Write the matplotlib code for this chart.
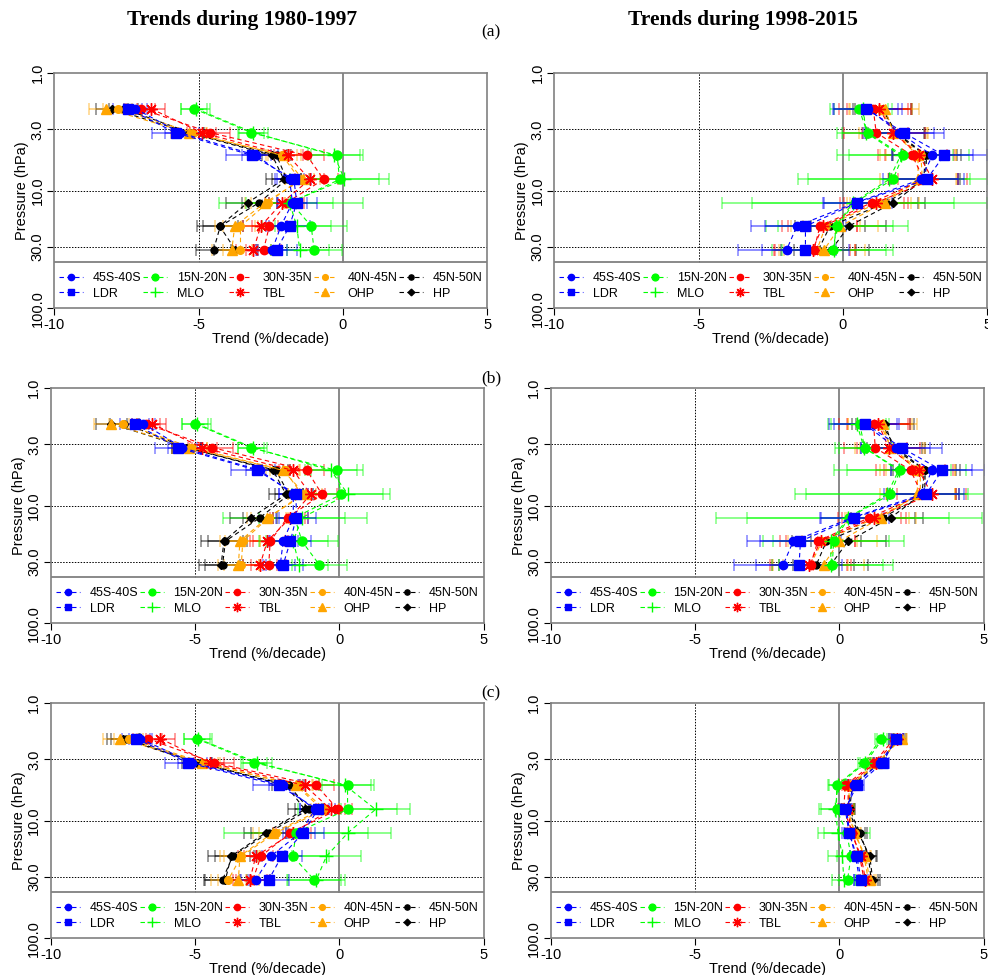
import numpy as np
import matplotlib.pyplot as plt

plt.rcParams['font.family'] = ['Liberation Sans', 'DejaVu Sans']
plt.rcParams['axes.unicode_minus'] = False

# pressure levels (hPa) of the trend profiles
levels = [2.0, 3.2, 5.0, 8.0, 12.6, 20.0, 31.7]

names = ["45S-40S", "LDR", "15N-20N", "MLO", "30N-35N", "TBL",
         "40N-45N", "OHP", "45N-50N", "HP"]
colors = ["#0000FF", "#0000FF", "#00FF00", "#00FF00", "#FF0000", "#FF0000",
          "#FFA500", "#FFA500", "#000000", "#000000"]
markers = ["o", "s", "o", "+", "o", (8, 2, 0), "o", "^", "o", "D"]
msizes = [6, 6.5, 6.5, 10, 6, 9, 5.5, 7, 5, 4.5]

# trends (%/decade), one row per station / zonal band, 7 levels each
trend_a_early = [
    [-7.2, -5.65, -3.0, -1.85, -1.75, -2.15, -2.45],
    [-7.45, -5.8, -3.15, -1.7, -1.6, -1.85, -2.3],
    [-5.17, -3.17, -0.2, -0.12, -1.8, -1.1, -1.0],
    [-5.1, -3.1, -0.3, 0.05, -1.85, -1.6, -1.5],
    [-7.0, -4.6, -1.25, -0.67, -1.95, -2.55, -2.75],
    [-6.65, -4.9, -1.9, -1.15, -2.1, -2.85, -3.1],
    [-7.8, -5.2, -2.1, -1.5, -2.6, -3.55, -3.55],
    [-8.2, -5.35, -2.05, -1.4, -2.7, -3.75, -3.85],
    [-7.6, -5.3, -2.3, -1.95, -2.9, -4.25, -4.48],
    [-8.0, -5.35, -2.45, -2.05, -3.3, -4.27, -3.73],
]
trend_a_late = [
    [0.85, 1.95, 3.1, 2.7, 0.45, -1.6, -1.95],
    [0.8, 2.1, 3.5, 2.9, 0.5, -1.3, -1.3],
    [0.55, 0.85, 2.08, 1.73, 0.4, -0.2, -0.35],
    [0.7, 0.8, 2.0, 1.6, 0.35, -0.25, -0.3],
    [1.05, 1.15, 2.4, 2.8, 1.0, -0.8, -1.0],
    [1.25, 1.75, 2.65, 3.1, 1.15, -0.7, -1.05],
    [1.3, 1.8, 2.7, 2.75, 1.25, -0.6, -0.9],
    [1.45, 1.75, 2.6, 2.6, 1.45, -0.1, -0.65],
    [1.35, 1.85, 2.9, 2.85, 1.5, -0.45, -0.85],
    [1.4, 1.8, 2.85, 2.8, 1.75, 0.2, -0.4],
]
trend_b_early = [
    [-6.8, -5.45, -2.75, -1.6, -1.6, -1.95, -2.05],
    [-7.1, -5.6, -2.85, -1.5, -1.5, -1.7, -1.95],
    [-5.0, -3.07, -0.1, 0.06, -1.55, -1.3, -0.7],
    [-4.95, -3.0, -0.3, 0.3, -1.3, -1.6, -1.4],
    [-6.7, -4.4, -1.13, -0.6, -1.8, -2.4, -2.45],
    [-6.5, -4.75, -1.6, -1.0, -1.7, -2.5, -2.75],
    [-7.5, -5.1, -1.9, -1.3, -2.45, -3.35, -3.4],
    [-7.9, -5.2, -1.95, -1.2, -2.5, -3.45, -3.5],
    [-7.45, -5.3, -2.2, -1.75, -2.75, -3.95, -4.05],
    [-7.9, -5.3, -2.3, -1.85, -3.05, -4.0, -4.1],
]
trend_b_late = [
    [0.85, 1.95, 3.2, 2.85, 0.45, -1.6, -1.95],
    [0.9, 2.15, 3.55, 3.0, 0.52, -1.35, -1.4],
    [0.7, 0.87, 2.1, 1.76, 0.33, -0.2, -0.25],
    [0.6, 0.85, 2.05, 1.65, 0.3, -0.3, -0.3],
    [1.18, 1.24, 2.47, 2.85, 1.04, -0.75, -1.0],
    [1.35, 1.7, 2.75, 3.2, 1.2, -0.65, -1.05],
    [1.4, 1.8, 2.8, 2.8, 1.3, -0.6, -1.0],
    [1.5, 1.75, 2.7, 2.7, 1.45, 0.0, -0.55],
    [1.45, 1.95, 2.97, 2.95, 1.5, -0.45, -0.8],
    [1.58, 1.85, 2.95, 2.85, 1.78, 0.3, -0.3],
]
trend_c_early = [
    [-6.9, -5.1, -1.95, -0.85, -1.35, -2.38, -2.9],
    [-7.05, -5.25, -2.1, -0.75, -1.25, -2.0, -2.45],
    [-4.95, -2.95, 0.28, 0.28, -1.5, -1.62, -0.88],
    [-4.9, -2.85, 0.2, 1.25, 0.3, -0.45, -0.8],
    [-6.65, -4.35, -0.8, -0.05, -1.7, -2.72, -3.0],
    [-6.2, -4.5, -1.2, -0.3, -1.6, -2.9, -3.1],
    [-7.3, -4.7, -1.45, -0.5, -2.2, -3.4, -3.85],
    [-7.6, -4.75, -1.5, -0.6, -2.3, -3.45, -3.5],
    [-7.4, -4.9, -1.75, -1.05, -2.45, -3.7, -4.05],
    [-7.5, -4.95, -1.85, -1.2, -2.55, -3.75, -3.95],
]
trend_c_late = [
    [2.0, 1.4, 0.5, 0.25, 0.35, 0.55, 0.7],
    [1.95, 1.5, 0.6, 0.2, 0.33, 0.6, 0.75],
    [1.43, 0.85, -0.1, -0.1, 0.25, 0.4, 0.28],
    [1.5, 0.9, -0.05, -0.15, -0.05, 0.1, 0.15],
    [1.9, 1.2, 0.2, 0.15, 0.45, 0.7, 0.85],
    [2.0, 1.25, 0.3, 0.3, 0.4, 0.75, 0.9],
    [2.1, 1.35, 0.4, 0.25, 0.55, 0.85, 1.0],
    [2.15, 1.3, 0.35, 0.3, 0.5, 0.9, 1.05],
    [2.05, 1.4, 0.45, 0.35, 0.7, 1.0, 1.1],
    [2.1, 1.35, 0.4, 0.3, 0.65, 1.05, 1.15],
]

# uncertainties (half width, %/decade)
err_early = [
    [0.4, 0.5, 0.5, 0.5, 0.5, 0.5, 0.5],
    [0.5, 0.8, 0.9, 0.6, 0.7, 0.7, 0.7],
    [0.45, 0.45, 0.9, 1.7, 2.5, 1.25, 0.95],
    [0.5, 0.5, 0.9, 1.2, 1.5, 1.2, 1.0],
    [0.5, 0.7, 0.6, 0.5, 0.6, 0.6, 0.6],
    [0.5, 0.5, 0.5, 0.5, 0.6, 0.6, 0.6],
    [0.5, 0.5, 0.5, 0.5, 0.6, 0.6, 0.6],
    [0.6, 0.6, 0.6, 0.6, 0.7, 0.7, 0.7],
    [0.5, 0.5, 0.5, 0.5, 0.6, 0.6, 0.6],
    [0.55, 0.5, 0.5, 0.6, 0.75, 0.8, 0.75],
]
err_late = [
    [1.2, 1.2, 1.4, 1.3, 1.1, 1.6, 1.7],
    [1.1, 1.4, 1.5, 1.3, 1.2, 1.4, 1.5],
    [1.0, 0.9, 2.3, 3.3, 4.6, 2.45, 2.1],
    [1.0, 1.0, 1.8, 2.8, 3.5, 2.0, 1.8],
    [1.2, 1.1, 1.2, 1.2, 1.1, 1.3, 1.4],
    [1.1, 1.1, 1.2, 1.2, 1.1, 1.2, 1.3],
    [1.1, 1.1, 1.2, 1.2, 1.1, 1.2, 1.3],
    [1.2, 1.2, 1.3, 1.3, 1.2, 1.3, 1.4],
    [1.0, 1.0, 1.2, 1.2, 1.1, 1.2, 1.3],
    [1.0, 1.0, 1.1, 1.2, 1.1, 1.3, 1.3],
]
err_c_late = [
    [0.2, 0.2, 0.2, 0.2, 0.2, 0.2, 0.2],
    [0.25, 0.2, 0.25, 0.2, 0.25, 0.25, 0.25],
    [0.2, 0.2, 0.3, 0.6, 0.8, 0.5, 0.3],
    [0.2, 0.2, 0.3, 0.5, 0.7, 0.5, 0.4],
    [0.2, 0.2, 0.2, 0.2, 0.2, 0.2, 0.2],
    [0.2, 0.2, 0.2, 0.2, 0.2, 0.2, 0.2],
    [0.2, 0.2, 0.2, 0.2, 0.2, 0.2, 0.2],
    [0.2, 0.2, 0.2, 0.2, 0.2, 0.2, 0.2],
    [0.2, 0.2, 0.2, 0.2, 0.25, 0.25, 0.25],
    [0.2, 0.2, 0.2, 0.2, 0.25, 0.25, 0.25],
]

xticks = [-10, -5, 0, 5]
xticklabels = ["-10", "-5", "0", "5"]
yticks = [1, 3, 10, 30, 100]
yticklabels = ["1.0", "3.0", "10.0", "30.0", "100.0"]

LEG_TOP = 0.196  # top of the legend strip, axes fraction
draw_order = [8, 9, 6, 7, 4, 5, 2, 3, 0, 1]


def draw_panel(ax, trends, errs):
    ax.set_yscale('log')
    ax.set_xlim(-10, 5)
    ax.set_ylim(100, 1)
    for p in [3, 10, 30]:
        ax.axhline(p, color='black', ls=(0, (1.5, 1.5)), lw=0.7, zorder=1)
    ax.axvline(-5, ymin=LEG_TOP, color='black', ls=(0, (1.5, 1.5)), lw=0.7, zorder=1)
    ax.axvline(0, ymin=LEG_TOP, color='#808080', lw=1.3, zorder=1)
    ax.plot([0, 1], [LEG_TOP, LEG_TOP], transform=ax.transAxes, color='#808080', lw=1.3)

    for i in draw_order:
        ax.errorbar(trends[i], levels, xerr=errs[i], fmt='none', ecolor=colors[i],
                    alpha=0.45, capsize=4, elinewidth=1.4, capthick=1.2, zorder=2)
    handles = {}
    for i in draw_order:
        filled = markers[i] not in ["+", (8, 2, 0)]
        ln, = ax.plot(trends[i], levels, color=colors[i], ls=(0, (4, 3)), lw=0.8,
                      marker=markers[i], ms=msizes[i], mec=colors[i],
                      mfc=colors[i] if filled else 'none', mew=1.0, zorder=3,
                      label=names[i])
        handles[i] = ln

    ax.legend([handles[i] for i in range(10)], names, ncol=5, loc='center',
              bbox_to_anchor=(0, 0.0, 1, 0.19), mode='expand', frameon=False,
              fontsize=9, markerscale=0.75, handlelength=1.9, handletextpad=0.8,
              labelspacing=0.3, borderaxespad=0, columnspacing=0.2)

    ax.set_xticks(xticks)
    ax.set_xticklabels(xticklabels)
    ax.set_yticks(yticks)
    ax.set_yticklabels(yticklabels, rotation=90, va='center')
    ax.yaxis.set_minor_locator(plt.NullLocator())
    ax.tick_params(direction='out', length=5, width=0.8, labelsize=10.5, pad=2)
    for s in ax.spines.values():
        s.set_color('#808080')
        s.set_linewidth(1.2)
    ax.set_xlabel("Trend (%/decade)", fontsize=10.5, labelpad=0)
    ax.set_ylabel("Pressure (hPa)", fontsize=10.5, labelpad=1)


fig = plt.figure(figsize=(9.88, 9.75), dpi=100)
W, H = 988.0, 975.0

panels = [
    (trend_a_early, err_early, 54.3, 308.3),
    (trend_a_late, err_late, 554.3, 308.3),
    (trend_b_early, err_early, 50.8, 623.3),
    (trend_b_late, err_late, 550.8, 623.3),
    (trend_c_early, err_early, 50.8, 938.3),
    (trend_c_late, err_c_late, 550.8, 938.3),
]
for trends, errs, left, bottom in panels:
    ax = fig.add_axes([left / W, 1 - bottom / H, 433 / W, 235 / H])
    draw_panel(ax, trends, errs)

fig.text(242 / W, 1 - 20 / H, "Trends during 1980-1997", ha='center', va='center',
         family='Liberation Serif', fontweight='bold', fontsize=15.5)
fig.text(743 / W, 1 - 20 / H, "Trends during 1998-2015", ha='center', va='center',
         family='Liberation Serif', fontweight='bold', fontsize=15.5)
for lab, yy in [("(a)", 32), ("(b)", 378), ("(c)", 693)]:
    fig.text(491 / W, 1 - yy / H, lab, ha='center', va='center',
             family='Liberation Serif', fontsize=12.5)

fig.savefig("out.png", dpi=100)
